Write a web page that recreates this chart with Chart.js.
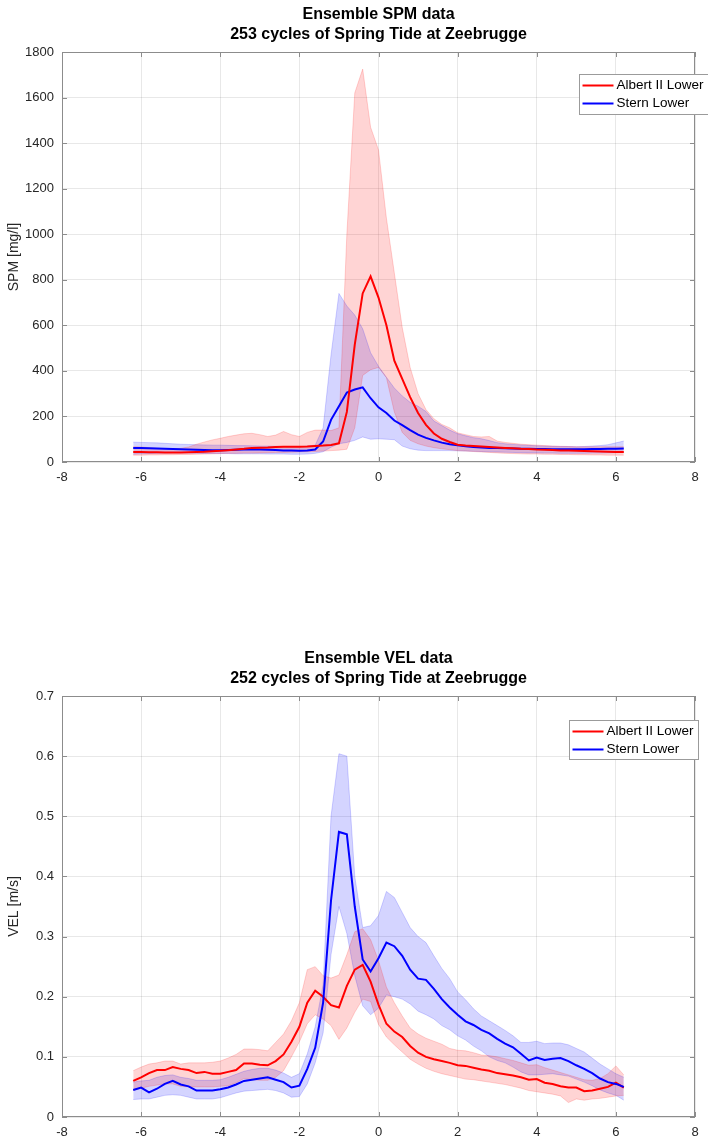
<!DOCTYPE html>
<html>
<head>
<meta charset="utf-8">
<title>Ensemble SPM / VEL data</title>
<script src="https://cdn.jsdelivr.net/npm/chart.js@4.4.1/dist/chart.umd.min.js"></script>
<style>
  html, body { margin: 0; padding: 0; background: #fff; }
  body { width: 708px; height: 1141px; position: relative; overflow: hidden; }
  canvas { position: absolute; left: 0; }
  #spmChart { top: 0; }
  #velChart { top: 620px; }
</style>
</head>
<body>
<canvas id="spmChart" width="708" height="500"></canvas>
<canvas id="velChart" width="708" height="521"></canvas>
<script>
// hours relative to high water
const hours = [-6.2, -6.0, -5.8, -5.6, -5.4, -5.2, -5.0, -4.8, -4.6, -4.4,
               -4.2, -4.0, -3.8, -3.6, -3.4, -3.2, -3.0, -2.8, -2.6, -2.4,
               -2.2, -2.0, -1.8, -1.6, -1.4, -1.2, -1.0, -0.8, -0.6, -0.4,
               -0.2, 0.0, 0.2, 0.4, 0.6, 0.8, 1.0, 1.2, 1.4, 1.6,
               1.8, 2.0, 2.2, 2.4, 2.6, 2.8, 3.0, 3.2, 3.4, 3.6,
               3.8, 4.0, 4.2, 4.4, 4.6, 4.8, 5.0, 5.2, 5.4, 5.6,
               5.8, 6.0, 6.2];

const seriesNames = ['Albert II Lower', 'Stern Lower'];
const xTicks = { min: -8, max: 8, step: 2 };

// --- SPM [mg/l] ---
const spmRed = [44, 44, 43, 43, 42, 42, 42, 43, 44, 45,
                47, 49, 52, 55, 58, 62, 63, 64, 66, 67,
                67, 67, 68, 70, 72, 75, 82, 220, 515, 740,
                815, 722, 600, 445, 365, 285, 215, 163, 125, 102,
                88, 76, 72, 70, 68, 66, 64, 62, 60, 58,
                57, 55, 54, 53, 51, 50, 49, 48, 47, 46,
                45, 44, 44];
const spmRedHi = [67, 66, 63, 60, 58, 58, 60, 66, 78, 88,
                  97, 104, 112, 118, 124, 126, 120, 112, 118, 134,
                  120, 112, 130, 140, 140, 138, 150, 1000, 1620, 1725,
                  1470, 1370, 1070, 830, 590, 415, 300, 230, 190, 165,
                  150, 128, 120, 112, 110, 112, 92, 86, 82, 78,
                  76, 74, 72, 70, 69, 68, 67, 67, 67, 67,
                  67, 67, 67];
const spmRedLo = [30, 30, 31, 31, 32, 32, 33, 33, 34, 35,
                  36, 37, 38, 38, 39, 39, 40, 41, 42, 42,
                  43, 44, 45, 46, 48, 50, 52, 56, 150, 380,
                  405, 415, 370, 220, 130, 95, 80, 70, 63, 58,
                  54, 50, 48, 46, 44, 42, 40, 38, 37, 36,
                  35, 35, 34, 34, 33, 33, 32, 32, 31, 31,
                  30, 30, 30];
const spmBlue = [62, 61, 60, 59, 58, 57, 56, 55, 54, 53,
                 52, 52, 53, 54, 55, 55, 55, 54, 53, 51,
                 50, 49, 50, 55, 90, 185, 245, 305, 318, 328,
                 280, 240, 215, 182, 162, 140, 120, 106, 95, 85,
                 78, 73, 69, 66, 64, 62, 61, 60, 59, 58,
                 58, 57, 57, 56, 56, 56, 56, 56, 57, 57,
                 58, 58, 59];
const spmBlueHi = [87, 86, 85, 84, 82, 80, 78, 77, 76, 75,
                   74, 74, 73, 72, 72, 71, 70, 70, 69, 68,
                   67, 67, 70, 74, 150, 470, 740, 685, 645, 585,
                   480, 420, 372, 325, 290, 262, 245, 222, 180, 160,
                   140, 124, 115, 107, 102, 94, 85, 80, 77, 75,
                   73, 71, 70, 69, 68, 68, 67, 68, 70, 72,
                   76, 84, 92];
const spmBlueLo = [34, 36, 37, 38, 39, 40, 40, 39, 38, 37,
                   37, 37, 37, 36, 36, 36, 36, 35, 35, 35,
                   34, 34, 35, 38, 45, 65, 80, 86, 95, 110,
                   100, 102, 100, 98, 70, 58, 52, 50, 50, 50,
                   50, 49, 48, 47, 46, 45, 44, 43, 42, 41,
                   40, 40, 39, 39, 38, 38, 38, 38, 39, 39,
                   40, 41, 42];

// --- VEL [m/s] ---
const velRed = [0.060, 0.066, 0.073, 0.078, 0.078, 0.083, 0.080, 0.078, 0.073, 0.075,
                0.072, 0.072, 0.075, 0.078, 0.089, 0.089, 0.087, 0.086, 0.093, 0.104,
                0.125, 0.150, 0.190, 0.210, 0.200, 0.186, 0.182, 0.218, 0.245, 0.253,
                0.225, 0.187, 0.155, 0.142, 0.133, 0.118, 0.107, 0.100, 0.096, 0.093,
                0.090, 0.086, 0.085, 0.082, 0.079, 0.077, 0.073, 0.071, 0.069, 0.066,
                0.062, 0.063, 0.057, 0.055, 0.051, 0.049, 0.049, 0.043, 0.044, 0.047,
                0.050, 0.057, 0.049];
const velRedHi = [0.077, 0.083, 0.088, 0.090, 0.093, 0.093, 0.088, 0.090, 0.090, 0.090,
                  0.091, 0.093, 0.098, 0.104, 0.113, 0.113, 0.112, 0.110, 0.124, 0.138,
                  0.160, 0.190, 0.245, 0.250, 0.235, 0.231, 0.236, 0.270, 0.308, 0.313,
                  0.295, 0.260, 0.216, 0.190, 0.168, 0.148, 0.138, 0.131, 0.126, 0.121,
                  0.114, 0.111, 0.110, 0.107, 0.103, 0.102, 0.100, 0.097, 0.094, 0.090,
                  0.086, 0.087, 0.082, 0.078, 0.074, 0.070, 0.066, 0.062, 0.061, 0.064,
                  0.072, 0.085, 0.070];
const velRedLo = [0.044, 0.048, 0.051, 0.053, 0.055, 0.055, 0.051, 0.050, 0.050, 0.050,
                  0.050, 0.051, 0.052, 0.057, 0.064, 0.062, 0.061, 0.061, 0.066, 0.077,
                  0.100, 0.125, 0.155, 0.170, 0.163, 0.152, 0.129, 0.148, 0.174, 0.196,
                  0.192, 0.154, 0.133, 0.120, 0.108, 0.096, 0.088, 0.081, 0.076, 0.072,
                  0.069, 0.066, 0.063, 0.062, 0.060, 0.058, 0.056, 0.054, 0.051, 0.048,
                  0.044, 0.042, 0.040, 0.038, 0.035, 0.024, 0.030, 0.028, 0.030, 0.031,
                  0.033, 0.035, 0.036];
const velBlue = [0.045, 0.049, 0.041, 0.047, 0.055, 0.060, 0.054, 0.051, 0.044, 0.044,
                 0.044, 0.046, 0.049, 0.054, 0.060, 0.062, 0.064, 0.066, 0.062, 0.058,
                 0.049, 0.052, 0.080, 0.115, 0.190, 0.360, 0.474, 0.470, 0.350, 0.262,
                 0.242, 0.264, 0.290, 0.284, 0.268, 0.245, 0.230, 0.228, 0.213, 0.196,
                 0.182, 0.170, 0.159, 0.153, 0.145, 0.139, 0.130, 0.122, 0.116, 0.105,
                 0.094, 0.099, 0.095, 0.097, 0.098, 0.093, 0.086, 0.080, 0.073, 0.064,
                 0.058, 0.055, 0.050];
const velBlueHi = [0.058, 0.060, 0.061, 0.066, 0.069, 0.070, 0.066, 0.064, 0.061, 0.061,
                   0.061, 0.062, 0.066, 0.071, 0.076, 0.079, 0.081, 0.081, 0.078, 0.073,
                   0.066, 0.072, 0.105, 0.150, 0.220, 0.500, 0.604, 0.600, 0.400, 0.315,
                   0.318, 0.335, 0.375, 0.365, 0.340, 0.315, 0.300, 0.290, 0.268, 0.247,
                   0.230, 0.208, 0.195, 0.180, 0.168, 0.160, 0.152, 0.144, 0.135, 0.124,
                   0.124, 0.126, 0.122, 0.123, 0.123, 0.120, 0.114, 0.108, 0.098, 0.088,
                   0.080, 0.072, 0.066];
const velBlueLo = [0.029, 0.030, 0.030, 0.033, 0.036, 0.037, 0.036, 0.033, 0.030, 0.030,
                   0.030, 0.032, 0.036, 0.040, 0.043, 0.044, 0.045, 0.046, 0.044, 0.040,
                   0.033, 0.034, 0.055, 0.090, 0.140, 0.270, 0.350, 0.305, 0.235, 0.185,
                   0.170, 0.181, 0.203, 0.200, 0.196, 0.188, 0.176, 0.170, 0.163, 0.152,
                   0.145, 0.135, 0.128, 0.118, 0.110, 0.100, 0.094, 0.090, 0.083, 0.075,
                   0.070, 0.070, 0.071, 0.072, 0.070, 0.068, 0.063, 0.058, 0.052, 0.045,
                   0.040, 0.036, 0.028];

const RED = '#ff0000', BLUE = '#0000ff';
const FONT = '"Liberation Sans", Arial, Helvetica, sans-serif';
const AXIS_GREY = '#8c8c8c';

const pts = arr => hours.map((h, i) => ({ x: h, y: arr[i] }));

// MATLAB-style box, inward ticks, two-line title and legend
const matlabAxes = {
    id: 'matlabAxes',
    afterDraw(chart, args, opts) {
        const { ctx, chartArea: a, scales: { x, y } } = chart;
        ctx.save();
        ctx.strokeStyle = AXIS_GREY;
        ctx.lineWidth = 1;
        ctx.strokeRect(a.left + 0.5, a.top + 0.5, a.right - a.left - 1, a.bottom - a.top - 1);
        ctx.beginPath();
        x.ticks.forEach(t => {
            const px = Math.round(x.getPixelForValue(t.value)) + 0.5;
            ctx.moveTo(px, a.bottom); ctx.lineTo(px, a.bottom - 5);
            ctx.moveTo(px, a.top); ctx.lineTo(px, a.top + 5);
        });
        y.ticks.forEach(t => {
            const py = Math.round(y.getPixelForValue(t.value)) + 0.5;
            ctx.moveTo(a.left, py); ctx.lineTo(a.left + 5, py);
            ctx.moveTo(a.right, py); ctx.lineTo(a.right - 5, py);
        });
        ctx.stroke();

        // title
        ctx.fillStyle = '#000';
        ctx.font = 'bold 16px ' + FONT;
        ctx.textAlign = 'center';
        ctx.textBaseline = 'middle';
        const cx = (a.left + a.right) / 2;
        opts.title.forEach((line, i) => ctx.fillText(line, cx, a.top - 37 + i * 20));

        // legend
        const L = opts.legend;
        ctx.fillStyle = '#fff';
        ctx.fillRect(L.left, L.top, L.width, L.height);
        ctx.strokeStyle = '#9b9b9b';
        ctx.strokeRect(L.left, L.top, L.width, L.height);
        ctx.font = '13.5px ' + FONT;
        ctx.textAlign = 'left';
        seriesNames.forEach((name, i) => {
            const ry = L.top + 11 + i * 18;
            ctx.strokeStyle = [RED, BLUE][i];
            ctx.lineWidth = 2;
            ctx.beginPath();
            ctx.moveTo(L.left + 3, ry); ctx.lineTo(L.left + 34, ry);
            ctx.stroke();
            ctx.fillStyle = '#000';
            ctx.fillText(name, L.left + 37, ry);
        });
        ctx.restore();
    }
};

function bandSets(lo, hi, rgb, fillTarget) {
    return [
        { data: pts(lo), borderColor: `rgba(${rgb},0.22)`, borderWidth: 0.8, fill: false },
        { data: pts(hi), borderColor: `rgba(${rgb},0.22)`, borderWidth: 0.8,
          backgroundColor: `rgba(${rgb},0.17)`, fill: { target: fillTarget } }
    ];
}

function makeChart(id, datasets, cfg) {
    const tickFont = { family: FONT, size: 13 };
    return new Chart(document.getElementById(id), {
        type: 'line',
        data: { datasets },
        options: {
            responsive: false,
            animation: false,
            devicePixelRatio: 1,
            layout: { padding: { top: cfg.padTop, right: 13, left: 0, bottom: 0 } },
            elements: { point: { radius: 0 }, line: { tension: 0 } },
            plugins: {
                legend: { display: false },
                tooltip: { enabled: false },
                filler: { drawTime: 'beforeDatasetsDraw' },
                matlabAxes: { title: cfg.title, legend: cfg.legend }
            },
            scales: {
                x: {
                    type: 'linear', min: xTicks.min, max: xTicks.max,
                    ticks: { stepSize: xTicks.step, padding: 8, color: '#262626', font: tickFont, maxRotation: 0 },
                    grid: { color: 'rgba(0,0,0,0.09)', drawTicks: false },
                    border: { display: false },
                    afterFit: s => { s.height = cfg.xHeight; }
                },
                y: {
                    min: cfg.yMin, max: cfg.yMax,
                    ticks: { stepSize: cfg.yStep, padding: 8, color: '#262626', font: tickFont,
                             callback: v => String(Number(v.toFixed(2))) },
                    grid: { color: 'rgba(0,0,0,0.09)', drawTicks: false },
                    border: { display: false },
                    title: { display: true, text: cfg.yLabel, color: '#262626',
                             font: { family: FONT, size: 14 }, padding: { top: 6, bottom: 0 } },
                    afterFit: s => { s.width = 62; }
                }
            }
        },
        plugins: [matlabAxes]
    });
}

// --- CHART 1: SPM ---
makeChart('spmChart', [
    { data: pts(spmRed), borderColor: RED, borderWidth: 2, fill: false },
    { data: pts(spmBlue), borderColor: BLUE, borderWidth: 2, fill: false },
    ...bandSets(spmRedLo, spmRedHi, '255,0,0', 2),
    ...bandSets(spmBlueLo, spmBlueHi, '0,0,255', 4)
], {
    padTop: 52, xHeight: 38, yMin: 0, yMax: 1800, yStep: 200,
    yLabel: 'SPM [mg/l]',
    title: ['Ensemble SPM data', '253 cycles of Spring Tide at Zeebrugge'],
    legend: { left: 579.5, top: 74.5, width: 130, height: 40 }
});

// --- CHART 2: VEL ---
makeChart('velChart', [
    { data: pts(velBlue), borderColor: BLUE, borderWidth: 2, fill: false },
    { data: pts(velRed), borderColor: RED, borderWidth: 2, fill: false },
    ...bandSets(velRedLo, velRedHi, '255,0,0', 2),
    ...bandSets(velBlueLo, velBlueHi, '0,0,255', 4)
], {
    padTop: 76, xHeight: 24, yMin: 0, yMax: 0.7, yStep: 0.1,
    yLabel: 'VEL [m/s]',
    title: ['Ensemble VEL data', '252 cycles of Spring Tide at Zeebrugge'],
    legend: { left: 569.5, top: 100.5, width: 129, height: 39 }
});
</script>
</body>
</html>
